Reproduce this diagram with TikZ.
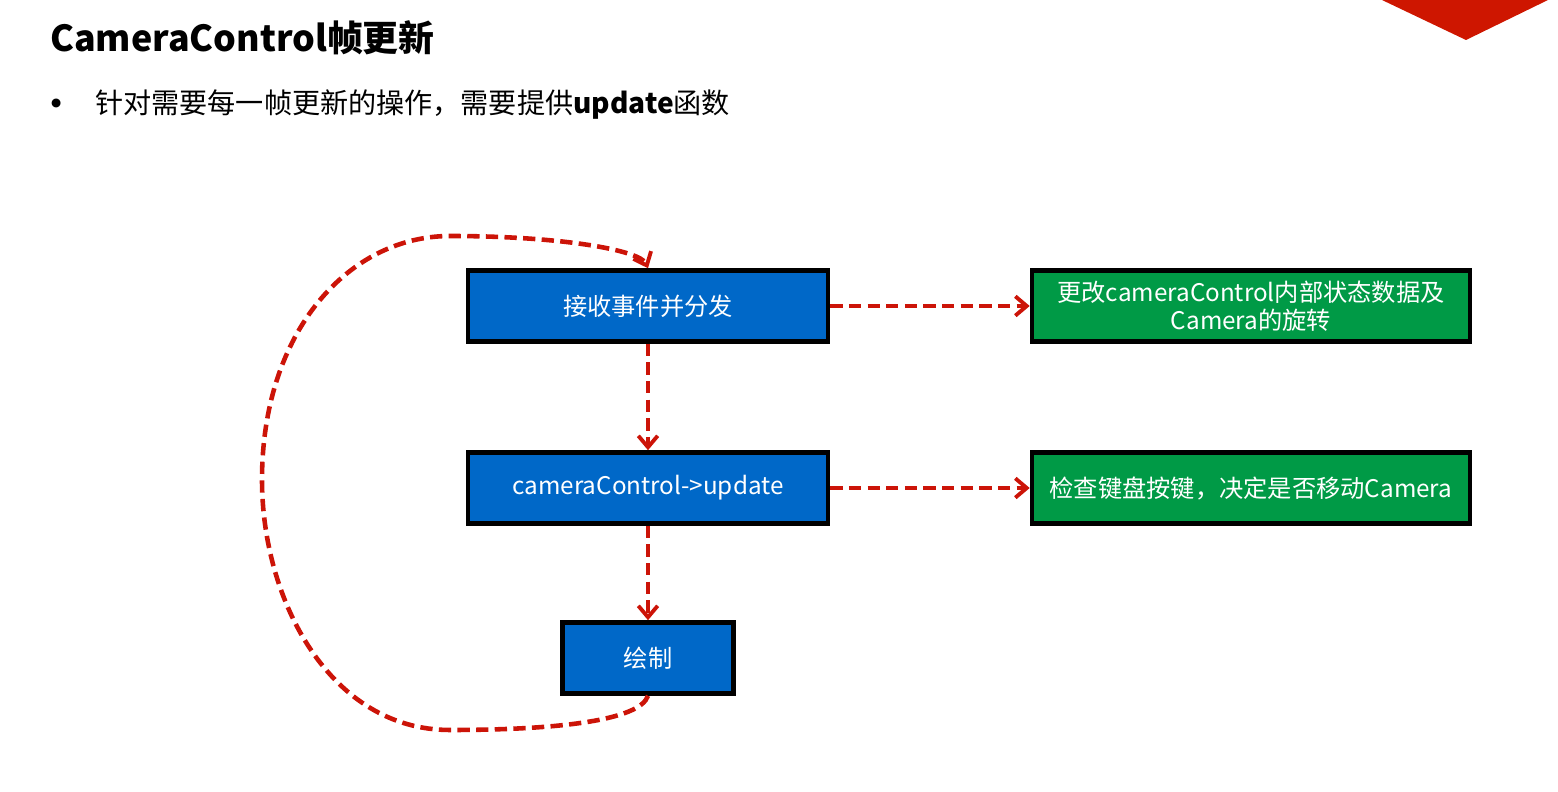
\documentclass[tikz,border=0pt]{standalone}
\usepackage{fontspec}
\setmainfont{Noto Sans CJK SC}
\usepackage{tikz}
\usetikzlibrary{positioning, arrows.meta}
\definecolor{CCBlue}{RGB}{0,104,200}
\definecolor{CCGreen}{RGB}{0,154,70}
\definecolor{CCRed}{RGB}{204,20,8}
\definecolor{CCBanner}{RGB}{206,22,0}

\begin{document}
\begin{tikzpicture}[
          box/.style={rectangle, draw=black, line width=2.6pt, text=white,
                      minimum height=1.42cm, font=\fontsize{13.8}{16}\selectfont,
                      align=center, inner sep=2pt},
          arr/.style={-{Straight Barb[length=6.5pt, width=11pt, line width=2.2pt]},
                      line width=2.6pt, CCRed, dash pattern=on 7pt off 3.6pt}
        ]
        \useasboundingbox (0,0) rectangle (31.16,15.84);

        % Banner corner
        \fill[CCBanner] (27.64,15.84) -- (29.32,15.04) -- (30.96,15.84) -- cycle;

        % Heading and bullet
        \node[anchor=base west, inner sep=0pt, font=\fontsize{20.4}{24}\selectfont\bfseries]
              (title) at (1.0,14.8) {CameraControl帧更新};
        \node[anchor=base west, inner sep=0pt, font=\fontsize{24}{26}\selectfont]
              (dot) at (0.7,13.45) {•};
        \node[anchor=base west, inner sep=0pt, font=\fontsize{16}{19}\selectfont]
              (bullet) at (1.9,13.56) {针对需要每一帧更新的操作，需要提供\textbf{update}函数};

        % Main flow
        \node[box, fill=CCBlue, minimum width=7.2cm] (recv) at (12.96,9.72)
              {接收事件并分发};
        \node[box, fill=CCBlue, minimum width=7.2cm] (upd) at (12.96,6.08)
              {cameraControl->update};
        \node[box, fill=CCBlue, minimum width=3.42cm] (paint) at (12.96,2.68)
              {绘制};

        % Side effects
        \node[box, fill=CCGreen, minimum width=8.76cm] (state) at (25.02,9.72)
              {更改cameraControl内部状态数据及\\Camera的旋转};
        \node[box, fill=CCGreen, minimum width=8.76cm] (keys) at (25.02,6.08)
              {检查键盘按键，决定是否移动Camera};

        \draw[arr] (recv.east)--(state.west);
        \draw[arr] (upd.east)--(keys.west);
        \draw[arr] (recv.south)--(upd.north);
        \draw[arr] (upd.south)--(paint.north);

        % Frame loop
        \draw[arr] (paint.south) .. controls (12.8,1.44) and (11.2,1.24) .. (9.0,1.24)
              .. controls (6.6,1.24) and (5.24,3.84) .. (5.24,6.24)
              .. controls (5.24,9.24) and (7.0,11.12) .. (9.0,11.12)
              .. controls (11.2,11.12) and (12.8,10.84) .. (recv.north);
      \end{tikzpicture}
\end{document}
